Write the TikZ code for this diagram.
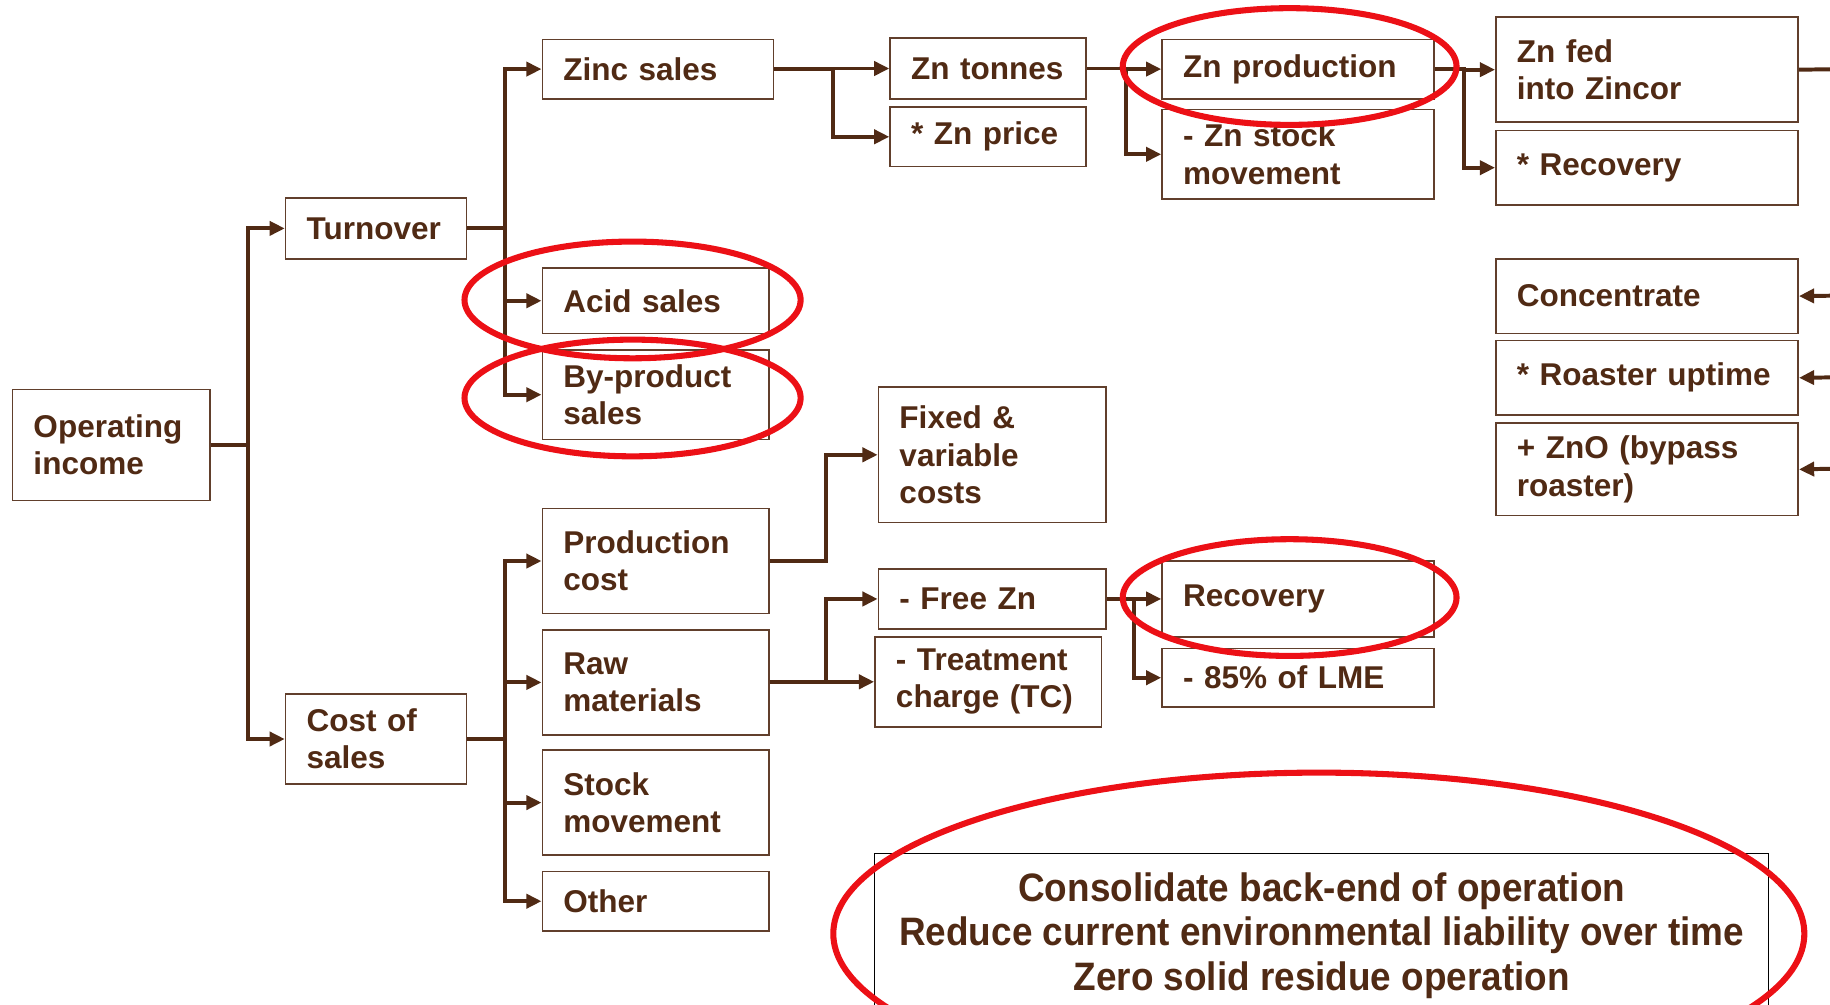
\documentclass[tikz,border=0pt]{standalone}
\usepackage{fontspec}
\setmainfont{Liberation Sans}
\newfontfamily\narrowsans[FakeStretch=0.93]{Liberation Sans}
\usepackage{tikz}
\usetikzlibrary{arrows.meta}
\definecolor{brn}{RGB}{80,42,20}
\definecolor{ringred}{RGB}{236,16,22}

\begin{document}
\begin{tikzpicture}[
  x=0.5pt, y=-0.5pt,
  font=\bfseries\fontsize{13.5}{16}\selectfont,
  box/.style={draw=brn!90, line width=0.7pt, text=brn, anchor=north west, align=left,
    inner xsep=9pt, inner ysep=0pt, text width=#1},
  box/.default=79pt,
  arr/.style={-{Triangle[length=6.5pt, width=6pt]}, draw=brn, line width=1.7pt},
  ring/.style={draw=ringred, line width=2.6pt}
]
  \useasboundingbox (0,0) rectangle (1568,861);
  \clip (0,0) rectangle (1568,861);

  \node[box=66.5pt, minimum height=47.5pt] (opinc) at (10,333) {Operating\\income};
  \node[box=59.5pt, minimum height=26pt] (turnover) at (244,169) {Turnover};
  \node[box=59.5pt, minimum height=38.5pt] (costsales) at (244,594) {Cost of\\sales};

  \node[box=81pt, minimum height=25.5pt] (zincsales) at (464,33) {Zinc sales};
  \node[box, minimum height=28pt] (acid) at (464,229) {Acid sales};
  \node[box, minimum height=38.5pt] (byprod) at (464,299) {By-product\\sales};
  \node[box, minimum height=45pt] (prodcost) at (464,435) {Production\\cost};
  \node[box, minimum height=45pt] (rawmat) at (464,539) {Raw\\materials};
  \node[box, minimum height=45pt] (stockmov) at (464,642) {Stock\\movement};
  \node[box, minimum height=25.5pt] (other) at (464,746) {Other};

  \node[box=66pt, minimum height=26pt] (zntonnes) at (762,32) {Zn tonnes};
  \node[box=66pt, minimum height=25.5pt] (znprice) at (762,91) {* Zn price};
  \node[box=98.5pt, minimum height=25.5pt] (znprod) at (995,33) {Zn production};
  \node[box=98.5pt, minimum height=38.5pt] (znstock) at (995,93) {- Zn stock\\movement};

  \node[box=111.5pt, minimum height=45pt] (znfed) at (1281,14) {Zn fed\\into Zincor};
  \node[box=111.5pt, minimum height=32pt] (recovery) at (1281,111) {* Recovery};
  \node[box=111.5pt, minimum height=32pt] (conc) at (1281,221) {Concentrate};
  \node[box=111.5pt, minimum height=32pt] (roaster) at (1281,291) {* Roaster uptime};
  \node[box=111.5pt, minimum height=39.5pt] (zno) at (1281,362) {+ ZnO (bypass\\roaster)};

  \node[box=79.5pt, minimum height=58pt] (fixed) at (752,331) {Fixed \&\\variable\\costs};
  \node[box=79.5pt, minimum height=25.5pt] (freezn) at (752,487) {- Free Zn};
  \node[box, minimum height=38.5pt] (treat) at (749,545) {- Treatment\\charge (TC)};
  \node[box=98.5pt, minimum height=32.5pt] (recovzn) at (995,480) {Recovery};
  \node[box=98.5pt, minimum height=25pt] (lme) at (995,555) {- 85\% of LME};

  \node[draw=black, line width=0.5pt, text=brn, anchor=north west, align=center,
    minimum width=383pt, minimum height=70pt,
    font=\narrowsans\bfseries\fontsize{17}{19}\selectfont] (goals) at (749,731)
    {Consolidate back-end of operation\\Reduce current environmental liability over time\\Zero solid residue operation};

  \coordinate (fedout) at (1600,59);
  \coordinate (concin) at (1600,253);
  \coordinate (roastin) at (1600,323);
  \coordinate (znoin) at (1600,401);

  \draw[arr] (opinc.east) -- ++(32,0) |- (turnover.west);
  \draw[arr] (opinc.east) -- ++(32,0) |- (costsales.west);
  \draw[arr] (turnover.east) -- ++(32,0) |- (zincsales.west);
  \draw[arr] (turnover.east) -- ++(32,0) |- (acid.west);
  \draw[arr] (turnover.east) -- ++(32,0) |- (byprod.west);
  \draw[arr] (costsales.east) -- ++(32,0) |- (prodcost.west);
  \draw[arr] (costsales.east) -- ++(32,0) |- (rawmat.west);
  \draw[arr] (costsales.east) -- ++(32,0) |- (stockmov.west);
  \draw[arr] (costsales.east) -- ++(32,0) |- (other.west);
  \draw[arr] (zincsales.east) -- ++(50,0) |- (zntonnes.west);
  \draw[arr] (zincsales.east) -- ++(50,0) |- (znprice.west);
  \draw[arr] (zntonnes.east) -- ++(33,0) |- (znprod.west);
  \draw[arr] (zntonnes.east) -- ++(33,0) |- (znstock.west);
  \draw[arr] (znprod.east) -- ++(25,0) |- (znfed.west);
  \draw[arr] (znprod.east) -- ++(25,0) |- (recovery.west);
  \draw[arr] (prodcost.east) -- ++(48,0) |- (fixed.west);
  \draw[arr] (rawmat.east) -- ++(48,0) |- (freezn.west);
  \draw[arr] (rawmat.east) -- ++(48,0) |- (treat.west);
  \draw[arr] (freezn.east) -- ++(23,0) |- (recovzn.west);
  \draw[arr] (freezn.east) -- ++(23,0) |- (lme.west);
  \draw[arr, -] (znfed.east) -- (fedout);
  \draw[arr] (concin) -- (conc.east);
  \draw[arr] (roastin) -- (roaster.east);
  \draw[arr] (znoin) -- (zno.east);

  \draw[ring] (542,257) ellipse [x radius=144, y radius=50];
  \draw[ring] (542,341) ellipse [x radius=144, y radius=50];
  \draw[ring] (1105,57) ellipse [x radius=143, y radius=50];
  \draw[ring] (1105,512) ellipse [x radius=143, y radius=50];
  \draw[ring] (1130,800) ellipse [x radius=416, y radius=138];
\end{tikzpicture}
\end{document}
